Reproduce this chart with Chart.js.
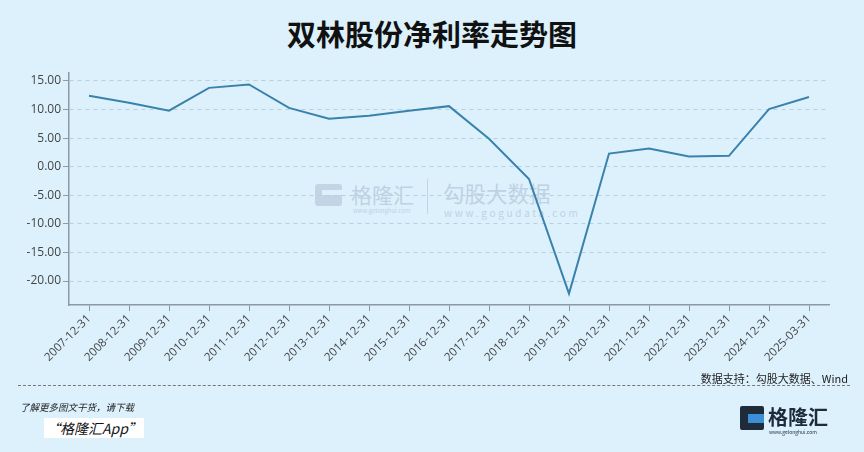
<!DOCTYPE html>
<html><head><meta charset="utf-8">
<script src="https://cdn.jsdelivr.net/npm/chart.js@4/dist/chart.umd.min.js"></script>
<style>
html,body{margin:0;padding:0;background:#dcf1fc;width:864px;height:452px;overflow:hidden;font-family:"Noto Sans CJK SC","Noto Sans",sans-serif;}
#wrap{position:absolute;left:0;top:0;width:864px;height:452px;}
.abs{position:absolute;white-space:nowrap;}
.wm{color:#bfd2e3;}
</style></head><body>
<div class="abs" style="left:0;top:13px;width:864px;text-align:center;font-size:29px;line-height:40px;font-weight:bold;color:#111;">双林股份净利率走势图</div>
<!-- watermark -->
<div class="abs" style="left:315px;top:184px;width:27px;height:22px;background:#c3d5e5;border-radius:3px;"></div>
<div class="abs" style="left:322px;top:190px;width:20px;height:5px;background:#dcf1fc;"></div>
<div class="abs" style="left:328px;top:195px;width:8px;height:6px;background:#c3d5e5;"></div>
<div class="abs wm" style="left:351px;top:180px;font-size:21px;line-height:28px;">格隆汇</div>
<div class="abs wm" style="left:353px;top:207px;font-size:6px;line-height:7px;">www.gelonghui.com</div>
<div class="abs" style="left:427px;top:179px;width:1px;height:35px;background:#c3d5e5;"></div>
<div class="abs wm" style="left:443px;top:179px;font-size:21.5px;line-height:28px;">勾股大数据</div>
<div class="abs wm" style="left:444px;top:207px;font-size:10px;line-height:12px;letter-spacing:2.7px;">www.gogudata.com</div>
<div id="wrap"><canvas id="c" width="864" height="452"></canvas></div>
<div class="abs" style="right:16px;top:370px;font-size:11px;color:#222;">数据支持：勾股大数据、Wind</div>
<div class="abs" style="left:18px;top:385px;width:832px;border-top:1px dashed #777;"></div>
<div class="abs" style="left:20px;top:400px;font-size:9.5px;font-style:italic;color:#222;">了解更多图文干货，请下载</div>
<div class="abs" style="left:44px;top:418px;font-size:14px;font-style:italic;color:#111;background:#fff;padding:0 2px;">“格隆汇App”</div>
<div class="abs" style="left:740px;top:406px;width:24px;height:24px;background:#1d2b3a;border-radius:2px;"></div>
<div class="abs" style="left:748px;top:414px;width:16px;height:9px;background:#3b8fd6;"></div>
<div class="abs" style="left:768px;top:402px;font-size:20px;color:#1d2b3a;font-weight:bold;">格隆汇</div>
<div class="abs" style="left:769px;top:428px;font-size:5px;color:#1d2b3a;">www.gelonghui.com</div>
<script>
const categories = ["2007-12-31","2008-12-31","2009-12-31","2010-12-31","2011-12-31","2012-12-31","2013-12-31","2014-12-31","2015-12-31","2016-12-31","2017-12-31","2018-12-31","2019-12-31","2020-12-31","2021-12-31","2022-12-31","2023-12-31","2024-12-31","2025-03-31"];
const netMargin = [12.4, 11.2, 9.8, 13.8, 14.4, 10.3, 8.4, 8.9, 9.8, 10.6, 4.9, -2.15, -22.2, 2.3, 3.2, 1.8, 1.9, 10.1, 12.2];
const yTicks = [15, 10, 5, 0, -5, -10, -15, -20];

new Chart(document.getElementById('c'), {
  type: 'line',
  data: { labels: categories,
    datasets: [{ data: netMargin, borderColor: '#3a82ab', borderWidth: 2, pointRadius: 0, tension: 0, fill: false }] },
  options: {
    responsive: false, animation: false,
    layout: { padding: { top: 73, right: 35, left: 0, bottom: 0 } },
    plugins: { legend: { display: false }, tooltip: { enabled: false } },
    scales: {
      x: {
        offset: true,
        grid: { drawOnChartArea: false, drawTicks: true, tickLength: 6, tickColor: '#8b9aa6', color: '#8b9aa6' },
        border: { color: '#8b9aa6', width: 1.5 },
        ticks: { autoSkip: false, maxRotation: 45, minRotation: 45, color: '#444', font: { size: 11.5, family: '"Open Sans","Noto Sans",sans-serif' }, padding: 1 },
        afterFit: (s) => { s.height = 147; }
      },
      y: {
        min: -24.2, max: 16.4,
        afterBuildTicks: (s) => { s.ticks = yTicks.map(v => ({ value: v })); },
        grid: { color: '#b7d0df', tickBorderDash: [], tickColor: '#8b9aa6', tickLength: 6 },
        border: { color: '#8b9aa6', width: 1.5, dash: [4, 4] },
        ticks: { color: '#444', font: { size: 12, family: '"Open Sans","Noto Sans",sans-serif' }, padding: 2, callback: (v) => Number(v).toFixed(2) },
        afterFit: (s) => { s.width = 69; }
      }
    }
  }
});
</script>
</body></html>
